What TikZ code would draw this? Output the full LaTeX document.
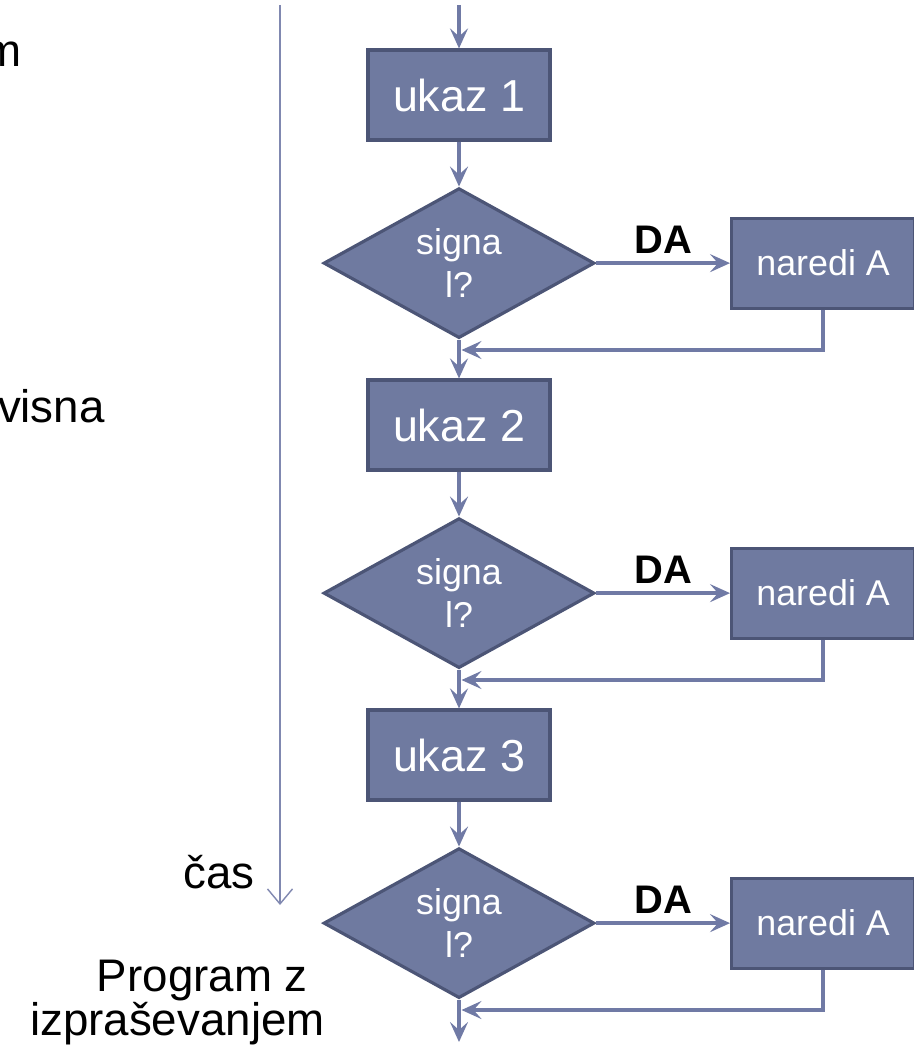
\documentclass[tikz,border=0pt]{standalone}
\usepackage{fontspec}
\setmainfont{Liberation Sans}
\usetikzlibrary{shapes.geometric, arrows.meta, positioning}
\definecolor{flowfill}{RGB}{111,122,160}
\definecolor{flowedge}{RGB}{76,85,118}
\definecolor{flowline}{RGB}{112,122,165}
\definecolor{casline}{RGB}{128,136,176}

\begin{document}
\begin{tikzpicture}[x=0.02cm, y=-0.02cm,
    ukazbox/.style={draw=flowedge, fill=flowfill, line width=1.8pt, minimum width=3.64cm, minimum height=1.8cm, text=white, font=\fontsize{25.5}{30}\selectfont},
    odlocitev/.style={diamond, draw=flowedge, fill=flowfill, line width=1.8pt, aspect=1.8, minimum width=5.42cm, minimum height=3cm, inner sep=0pt, text=white, align=center, font=\fontsize{20.4}{24.4}\selectfont},
    naredibox/.style={draw=flowedge, fill=flowfill, line width=1.8pt, minimum width=3.66cm, minimum height=1.8cm, text=white, font=\fontsize{20.4}{24}\selectfont},
    tok/.style={draw=flowline, line width=2.2pt, -{Stealth[length=0.4cm, width=0.36cm, inset=0.16cm]}},
    da/.style={font=\bfseries\fontsize{22.7}{26}\selectfont, inner sep=4.5pt},
    veliko/.style={font=\fontsize{26}{25}\selectfont, inner sep=0pt}]
    \useasboundingbox (0,0) rectangle (913,1057);

    % casovna os
    \coordinate (cas0) at (280,5);
    \coordinate (cas1) at (280,905);
    \draw[casline, line width=0.8pt, -{Straight Barb[length=0.3cm, width=0.5cm]}] (cas0) -- (cas1);
    \node[veliko, anchor=base east] (tm) at (22,67) {m};
    \node[veliko, anchor=base east] (tvisna) at (105,422) {visna};
    \node[veliko, anchor=base east] (tcas) at (255,888) {čas};
    \node[veliko, anchor=base east, align=right] (tprog) at (325,1035) {Program z\kern0.34cm\\izpraševanjem};

    % bloki: ukaz, vprasanje, naredi A
    \foreach \i in {1,2,3} {
        \node[ukazbox] (uk\i) at (459,{95+330*(\i-1)}) {ukaz \i};
        \node[odlocitev, below=0.9cm of uk\i] (sig\i) {signa\\l?};
        \node[naredibox, right=2.68cm of sig\i] (nar\i) {naredi A};
        \coordinate (j\i) at (461.5,{350+330*(\i-1)});
        \draw[tok] (uk\i) -- (sig\i);
        \draw[tok] (sig\i) -- node[da, above] (da\i) {DA} (nar\i);
        \draw[tok] (nar\i.south) |- (j\i);
    }

    % povezave med bloki
    \coordinate (zacetek) at (459,5);
    \coordinate (konec) at (459,1042);
    \draw[tok] (zacetek) -- (uk1);
    \draw[tok] (sig1) -- (uk2);
    \draw[tok] (sig2) -- (uk3);
    \draw[tok] (sig3) -- (konec);
\end{tikzpicture}
\end{document}
